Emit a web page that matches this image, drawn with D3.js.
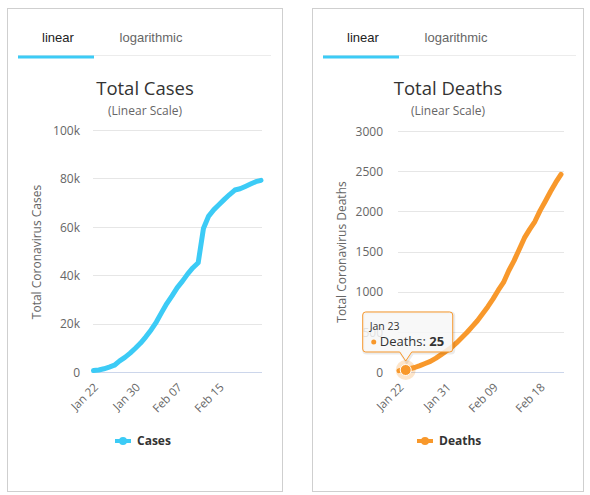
<!DOCTYPE html>
<html>
<head>
<meta charset="utf-8">
<script src="https://cdn.jsdelivr.net/npm/d3@7"></script>
<style>
  html, body { margin: 0; padding: 0; background: #ffffff; }
  svg { display: block; }
</style>
</head>
<body>
<svg id="chart" width="590" height="495"></svg>
<script>
// ---------- DATA ----------
const casesDates = ["Jan 22","Jan 23","Jan 24","Jan 25","Jan 26","Jan 27","Jan 28","Jan 29","Jan 30","Jan 31",
  "Feb 01","Feb 02","Feb 03","Feb 04","Feb 05","Feb 06","Feb 07","Feb 08","Feb 09","Feb 10","Feb 11",
  "Feb 12","Feb 13","Feb 14","Feb 15","Feb 16","Feb 17","Feb 18","Feb 19","Feb 20","Feb 21","Feb 22","Feb 23"];
const casesValues = [580, 845, 1317, 2015, 2800, 4581, 6058, 7813, 9823, 11950,
  14553, 17391, 20630, 24545, 28266, 31439, 34876, 37552, 40553, 43099, 45134,
  59287, 64438, 67100, 69197, 71329, 73332, 75184, 75700, 76677, 77673, 78651, 79205];
const casesTickLabels = ["Jan 22","Jan 30","Feb 07","Feb 15"];
const casesYTicks = [0, 20000, 40000, 60000, 80000, 100000];

const deathsDates = ["Jan 22","Jan 23","Jan 24","Jan 25","Jan 26","Jan 27","Jan 28","Jan 29","Jan 30","Jan 31",
  "Feb 01","Feb 02","Feb 03","Feb 04","Feb 05","Feb 06","Feb 07","Feb 08","Feb 09","Feb 10","Feb 11",
  "Feb 12","Feb 13","Feb 14","Feb 15","Feb 16","Feb 17","Feb 18","Feb 19","Feb 20","Feb 21","Feb 22"];
const deathsValues = [17, 25, 41, 56, 80, 106, 132, 170, 213, 259,
  304, 362, 426, 492, 565, 638, 724, 813, 910, 1018, 1115,
  1261, 1383, 1526, 1669, 1775, 1873, 2009, 2126, 2247, 2360, 2460];
const deathsTickLabels = ["Jan 22","Jan 31","Feb 09","Feb 18"];
const deathsYTicks = [0, 500, 1000, 1500, 2000, 2500, 3000];

const tabLabels = ["linear", "logarithmic"];
const tooltipPoint = { date: "Jan 23", label: "Deaths" };

// ---------- STYLE ----------
const FONT = "'Open Sans', 'DejaVu Sans', sans-serif";
const TABFONT = "'Liberation Sans', Arial, sans-serif";
const BLUE = "#3ccbf6";
const ORANGE = "#f8982b";

const svg = d3.select("#chart");

function drawPanel(cfg) {
  const g = svg.append("g");

  // panel frame
  g.append("rect")
    .attr("x", cfg.left + 0.5).attr("y", 8.5)
    .attr("width", cfg.width).attr("height", 483)
    .attr("fill", "#fff").attr("stroke", "#cfcfcf");

  // tabs
  const tx = cfg.left + 11;
  g.append("line")
    .attr("x1", tx).attr("x2", tx + 253)
    .attr("y1", 55.5).attr("y2", 55.5)
    .attr("stroke", "#ececec");
  g.append("rect")
    .attr("x", tx).attr("y", 55.5).attr("width", 76).attr("height", 3)
    .attr("fill", BLUE);
  g.selectAll("text.tab").data(tabLabels).join("text")
    .attr("class", "tab")
    .attr("x", (d, i) => tx + (i === 0 ? 40 : 133))
    .attr("y", 42)
    .attr("text-anchor", "middle")
    .attr("font-family", TABFONT)
    .attr("font-size", 13)
    .attr("fill", (d, i) => i === 0 ? "#222" : "#666")
    .text(d => d);

  const cx = cfg.left + cfg.width / 2 + 0.5;
  g.append("text")
    .attr("x", cx).attr("y", 95)
    .attr("text-anchor", "middle")
    .attr("font-family", FONT).attr("font-size", 18.5)
    .attr("fill", "#333").text(cfg.title);
  g.append("text")
    .attr("x", cx).attr("y", 115)
    .attr("text-anchor", "middle")
    .attr("font-family", FONT).attr("font-size", 12)
    .attr("fill", "#666").text("(Linear Scale)");

  // scales
  const x = d3.scalePoint().domain(cfg.dates).range([cfg.x0, cfg.x1]);
  const y = d3.scaleLinear().domain([0, cfg.yMax]).range([372, cfg.yTop]);

  // gridlines
  g.append("g").selectAll("line").data(cfg.yTicks.slice(1)).join("line")
    .attr("x1", cfg.gx0).attr("x2", cfg.gx1)
    .attr("y1", d => Math.round(y(d)) + 0.5).attr("y2", d => Math.round(y(d)) + 0.5)
    .attr("stroke", "#e6e6e6");

  // y axis labels
  const yAxis = d3.axisLeft(y).tickValues(cfg.yTicks).tickSize(0).tickPadding(0)
    .tickFormat(cfg.yFormat);
  const ya = g.append("g").attr("transform", `translate(${cfg.labelRight},0)`).call(yAxis);
  ya.select(".domain").remove();
  ya.selectAll("text")
    .attr("font-family", FONT).attr("font-size", 12).attr("fill", "#666")
    .attr("dy", "0.35em");

  // y axis title
  g.append("text")
    .attr("transform", `translate(${cfg.titleX},252) rotate(-90)`)
    .attr("text-anchor", "middle")
    .attr("font-family", FONT).attr("font-size", 12)
    .attr("fill", "#666").text(cfg.yTitle);

  // x axis
  const xAxis = d3.axisBottom(x).tickValues(cfg.tickLabels).tickSize(0).tickPadding(0);
  const xa = g.append("g").attr("transform", "translate(0,372)").call(xAxis);
  xa.select(".domain").remove();
  xa.selectAll("text")
    .attr("font-family", FONT).attr("font-size", 11.5).attr("fill", "#666")
    .attr("text-anchor", "end")
    .attr("dy", 0)
    .attr("transform", "translate(5,16) rotate(-45)");
  g.append("line")
    .attr("x1", cfg.gx0).attr("x2", cfg.gx1)
    .attr("y1", 372.5).attr("y2", 372.5)
    .attr("stroke", "#ccd6eb");

  // series line
  const line = d3.line().x((d, i) => x(cfg.dates[i])).y(d => y(d));
  g.append("path")
    .datum(cfg.values)
    .attr("d", line)
    .attr("fill", "none")
    .attr("stroke", cfg.color)
    .attr("stroke-width", 5)
    .attr("stroke-linejoin", "round")
    .attr("stroke-linecap", "round");

  // legend
  const lx = cfg.legendX;
  g.append("line")
    .attr("x1", lx).attr("x2", lx + 16).attr("y1", 441).attr("y2", 441)
    .attr("stroke", cfg.color).attr("stroke-width", 4);
  g.append("circle").attr("cx", lx + 8).attr("cy", 441).attr("r", 4).attr("fill", cfg.color);
  g.append("text")
    .attr("x", lx + 22).attr("y", 445)
    .attr("font-family", FONT).attr("font-size", 12).attr("font-weight", "bold")
    .attr("fill", "#333").text(cfg.name);

  return { g, x, y };
}

drawPanel({
  left: 7, width: 275, title: "Total Cases", dates: casesDates, values: casesValues,
  tickLabels: casesTickLabels, yTicks: casesYTicks, yMax: 100000, yTop: 130,
  yFormat: d => d === 0 ? "0" : (d / 1000) + "k",
  x0: 93.5, x1: 261, gx0: 93, gx1: 262, labelRight: 80, titleX: 41,
  yTitle: "Total Coronavirus Cases", color: BLUE, name: "Cases", legendX: 115
});

const dp = drawPanel({
  left: 312, width: 271, title: "Total Deaths", dates: deathsDates, values: deathsValues,
  tickLabels: deathsTickLabels, yTicks: deathsYTicks, yMax: 3000, yTop: 131,
  yFormat: d => String(d),
  x0: 399, x1: 561, gx0: 398, gx1: 564, labelRight: 383, titleX: 346,
  yTitle: "Total Coronavirus Deaths", color: ORANGE, name: "Deaths", legendX: 417
});

// hover marker + tooltip on deaths chart
(function () {
  const idx = deathsDates.indexOf(tooltipPoint.date);
  const px = dp.x(tooltipPoint.date) + 1.5;
  const py = dp.y(deathsValues[idx]);
  const g = dp.g.append("g");
  g.append("circle").attr("cx", px).attr("cy", py).attr("r", 10)
    .attr("fill", ORANGE).attr("opacity", 0.25);
  g.append("circle").attr("cx", px).attr("cy", py).attr("r", 5.5)
    .attr("fill", ORANGE).attr("stroke", "#fff").attr("stroke-width", 1);

  const bx0 = px - 43, bx1 = px + 47, by0 = py - 58, by1 = py - 18, r = 3;
  const tipY = py - 9;
  const path = `M${bx0 + r},${by0} L${bx1 - r},${by0} Q${bx1},${by0} ${bx1},${by0 + r}
    L${bx1},${by1 - r} Q${bx1},${by1} ${bx1 - r},${by1}
    L${px + 6},${by1} L${px},${tipY} L${px - 6},${by1}
    L${bx0 + r},${by1} Q${bx0},${by1} ${bx0},${by1 - r}
    L${bx0},${by0 + r} Q${bx0},${by0} ${bx0 + r},${by0} Z`;
  g.append("path").attr("d", path)
    .attr("transform", "translate(1,1)")
    .attr("fill", "none").attr("stroke", "#000").attr("stroke-opacity", 0.08).attr("stroke-width", 3);
  g.append("path").attr("d", path)
    .attr("fill", "rgba(247,247,247,0.85)")
    .attr("stroke", ORANGE).attr("stroke-width", 1);
  g.append("text").attr("x", bx0 + 7).attr("y", by0 + 18)
    .attr("font-family", FONT).attr("font-size", 10.5).attr("fill", "#333")
    .text(tooltipPoint.date);
  g.append("circle").attr("cx", bx0 + 11).attr("cy", by0 + 30).attr("r", 2.5).attr("fill", ORANGE);
  const t = g.append("text").attr("x", bx0 + 17).attr("y", by0 + 34.5)
    .attr("font-family", FONT).attr("font-size", 13).attr("fill", "#333");
  t.append("tspan").text(tooltipPoint.label + ": ");
  t.append("tspan").attr("font-weight", "bold").text(deathsValues[idx]);
})();
</script>
</body>
</html>
